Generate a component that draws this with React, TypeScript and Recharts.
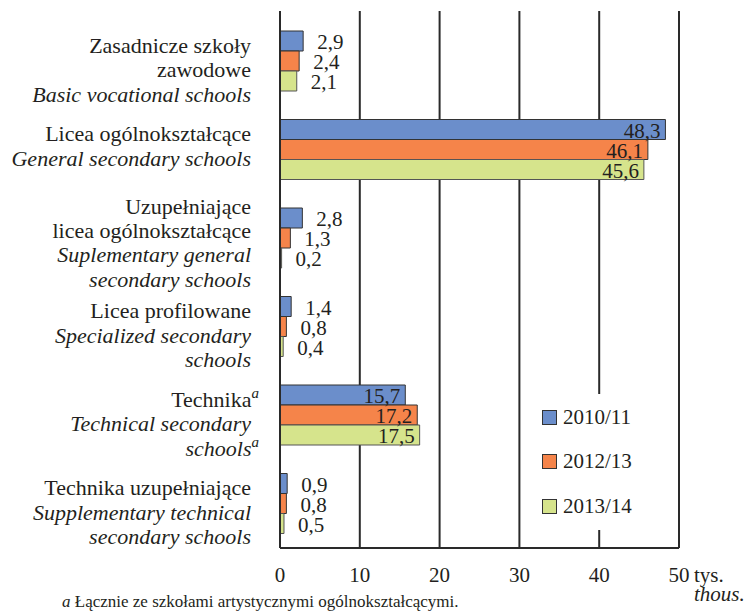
import React from 'react';
import {
	Bar,
	BarChart,
	CartesianGrid,
	LabelList,
	Legend,
	XAxis,
	YAxis,
} from 'recharts';

const years = ['2010/11', '2012/13', '2013/14'];
const categoryPl = [
	['Zasadnicze szkoły', 'zawodowe'],
	['Licea ogólnokształcące'],
	['Uzupełniające', 'licea ogólnokształcące'],
	['Licea profilowane'],
	['Technika'],
	['Technika uzupełniające'],
];
const categoryEn = [
	['Basic vocational schools'],
	['General secondary schools'],
	['Suplementary general', 'secondary schools'],
	['Specialized secondary', 'schools'],
	['Technical secondary', 'schools'],
	['Supplementary technical', 'secondary schools'],
];
const footnoted = [false, false, false, false, true, false];
const values2010 = [2.9, 48.3, 2.8, 1.4, 15.7, 0.9];
const values2012 = [2.4, 46.1, 1.3, 0.8, 17.2, 0.8];
const values2013 = [2.1, 45.6, 0.2, 0.4, 17.5, 0.5];
const xTicks = [0, 10, 20, 30, 40, 50];

const colors = ['#6b8ecb', '#f5844a', '#d6e48c'];
const FONT = '"Liberation Serif", Tinos, monospace';
const INK = '#231f20';
const txt = { fontFamily: FONT, fontSize: 21 };

const data = categoryPl.map((_, i) => ({
	name: String(i),
	a: values2010[i],
	b: values2012[i],
	c: values2013[i],
}));

const fmt = (v: number) => v.toFixed(1).replace('.', ',');

function ValueLabel(props: any) {
	const { x, y, width, height, value } = props;
	const inside = value > 10;
	return (
		<text
			x={inside ? x + width - 5 : x + width + 14}
			y={y + height / 2 + 1}
			dy="0.35em"
			textAnchor={inside ? 'end' : 'start'}
			style={txt}
			fill={INK}
		>
			{fmt(value)}
		</text>
	);
}

function CategoryTick(props: any) {
	const { y, payload } = props;
	const i = Number(payload.value);
	const pl = categoryPl[i];
	const en = categoryEn[i];
	const lines = [
		...pl.map((t, k) => ({ t, it: false, sup: footnoted[i] && k === pl.length - 1 })),
		...en.map((t, k) => ({ t, it: true, sup: footnoted[i] && k === en.length - 1 })),
	];
	const lh = 24.4;
	const half = payload.offset || 44.25;
	// labels hang from the top of the band, pushed up if they would run past its bottom
	const start = Math.min(y - half + 28, y + half - 3.5 - (lines.length - 1) * lh);
	return (
		<g>
			{lines.map((l, k) => (
				<text
					key={k}
					x={l.sup ? 259 : 251}
					y={start + k * lh}
					dy="0.35em"
					textAnchor="end"
					style={{ fontFamily: FONT, fontSize: 22, fontStyle: l.it ? 'italic' : 'normal' }}
					fill={INK}
				>
					{l.t}
					{l.sup && (
						<tspan dy={-9} style={{ fontSize: 15, fontStyle: 'italic' }}>
							a
						</tspan>
					)}
				</text>
			))}
		</g>
	);
}

function XTick(props: any) {
	const { x, y, payload } = props;
	const v = payload.value;
	return (
		<g fill={INK}>
			<text x={x} y={y + 34} textAnchor="middle" style={txt}>
				{v}
			</text>
			{v === 50 && (
				<>
					<text x={x + 15} y={y + 34} style={txt}>
						tys.
					</text>
					<text x={x + 15} y={y + 53} style={{ ...txt, fontStyle: 'italic' }}>
						thous.
					</text>
				</>
			)}
		</g>
	);
}

const EmptyTick = () => <g />;

function LegendBox() {
	return (
		<div style={{ paddingTop: 1 }}>
			{years.map((yr, i) => (
				<div
					key={yr}
					style={{
						display: 'flex',
						alignItems: 'center',
						height: 44.5,
						fontFamily: FONT,
						fontSize: 21,
						color: INK,
					}}
				>
					<span
						style={{
							display: 'inline-block',
							width: 13,
							height: 13,
							background: colors[i],
							border: '1px solid #333',
							marginLeft: 12,
							marginRight: 6,
						}}
					/>
					{yr}
				</div>
			))}
		</div>
	);
}

export default function App() {
	return (
		<div
			style={{
				position: 'absolute',
				left: 0,
				top: 0,
				width: 749,
				height: 613,
				background: '#fff',
				fontFamily: FONT,
			}}
		>
			<BarChart
				width={749}
				height={613}
				data={data}
				layout="vertical"
				barSize={20}
				barGap={0}
				margin={{ top: 11, right: 70, bottom: 25, left: 0 }}
			>
				<CartesianGrid horizontal={false} stroke="#2a2a2a" strokeWidth={2} />
				<XAxis
					type="number"
					domain={[0, 50]}
					ticks={xTicks}
					height={40}
					axisLine={{ stroke: '#2a2a2a', strokeWidth: 2 }}
					tickLine={false}
					tickSize={0}
					tickMargin={0}
					tick={<XTick />}
				/>
				<XAxis
					xAxisId="top"
					orientation="top"
					type="number"
					domain={[0, 50]}
					ticks={xTicks}
					height={0}
					axisLine={{ stroke: '#2a2a2a', strokeWidth: 2 }}
					tickLine={{ stroke: '#999', strokeWidth: 2 }}
					tickSize={3}
					tick={<EmptyTick />}
				/>
				<YAxis
					type="category"
					dataKey="name"
					width={280}
					padding={{ top: 6, bottom: 0 }}
					axisLine={{ stroke: '#2a2a2a', strokeWidth: 2 }}
					tickLine={false}
					tickSize={0}
					tickMargin={0}
					tick={<CategoryTick />}
				/>
				<YAxis
					yAxisId="right"
					orientation="right"
					type="category"
					dataKey="name"
					width={0}
					axisLine={{ stroke: '#2a2a2a', strokeWidth: 2 }}
					tickLine={false}
					tick={false}
				/>
				<Legend
					layout="vertical"
					align="center"
					verticalAlign="middle"
					content={<LegendBox />}
					wrapperStyle={{ position: 'absolute', left: 530, top: 394, width: 140, height: 136, background: '#fff' }}
				/>
				<Bar dataKey="a" name={years[0]} fill={colors[0]} stroke="#333" strokeWidth={1} isAnimationActive={false}>
					<LabelList dataKey="a" content={<ValueLabel />} />
				</Bar>
				<Bar dataKey="b" name={years[1]} fill={colors[1]} stroke="#333" strokeWidth={1} isAnimationActive={false}>
					<LabelList dataKey="b" content={<ValueLabel />} />
				</Bar>
				<Bar dataKey="c" name={years[2]} fill={colors[2]} stroke="#555" strokeWidth={1} isAnimationActive={false}>
					<LabelList dataKey="c" content={<ValueLabel />} />
				</Bar>
			</BarChart>
			<div
				style={{
					position: 'absolute',
					left: 62,
					top: 593,
					fontFamily: FONT,
					fontSize: 17,
					lineHeight: '17px',
					color: INK,
					whiteSpace: 'nowrap',
				}}
			>
				<i>a</i> Łącznie ze szkołami artystycznymi ogólnokształcącymi.
			</div>
		</div>
	);
}
